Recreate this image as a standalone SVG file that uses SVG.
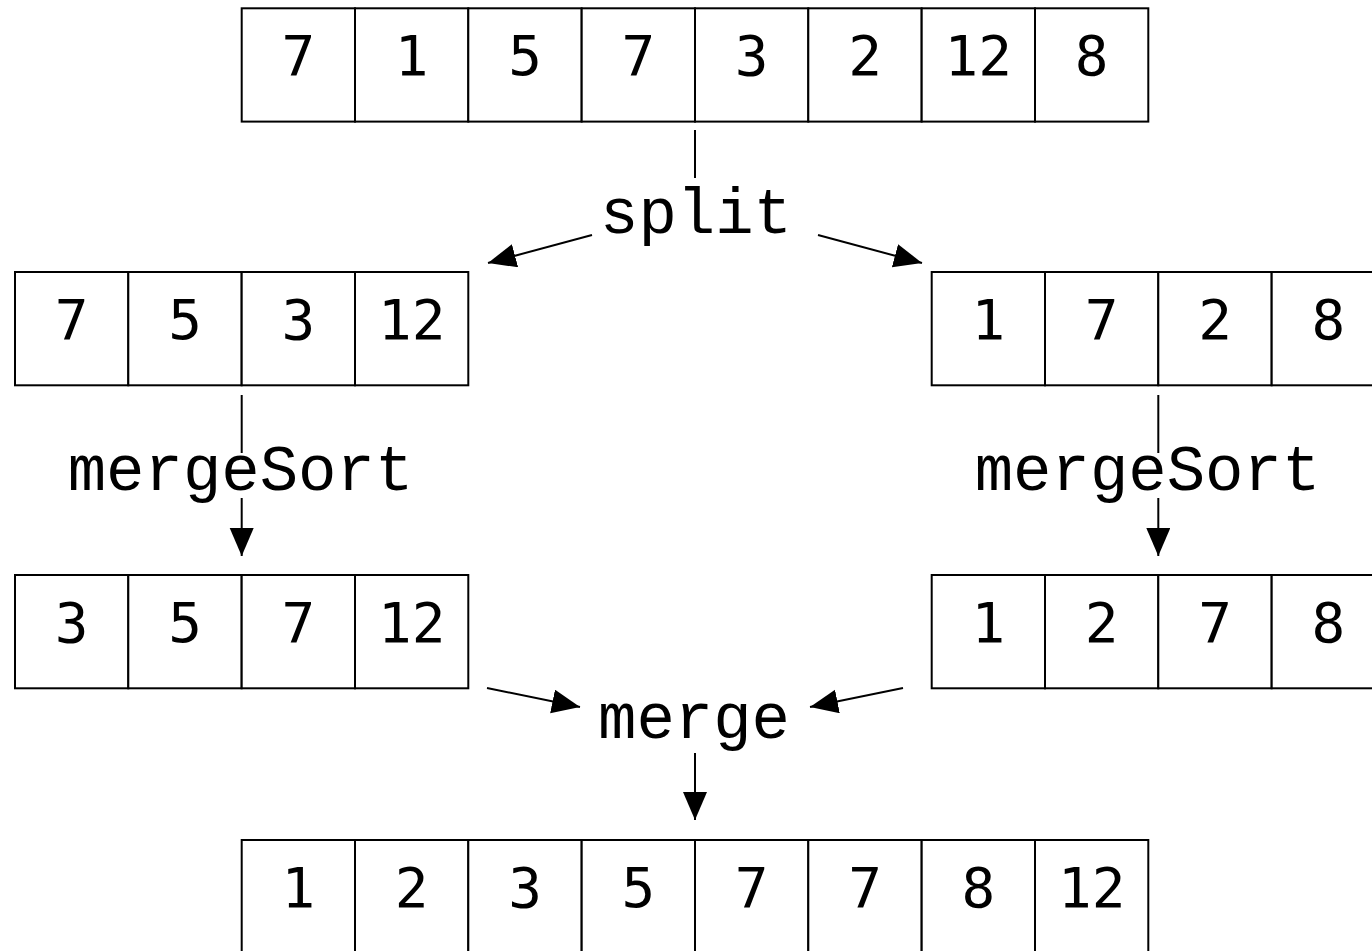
<svg xmlns="http://www.w3.org/2000/svg" width="1372" height="951" viewBox="0 0 1372 951">
<style>
.cell{fill:#fff;stroke:#000;stroke-width:2}
.num{font-family:"DejaVu Sans Mono","Liberation Mono",monospace;font-size:56px;text-anchor:middle;fill:#000}
.lbl{font-family:"Liberation Mono","Courier New",monospace;font-size:64px;text-anchor:middle;fill:#000}
.conn{stroke:#000;stroke-width:2;fill:none}
</style>
<defs>
<marker id="ah" markerUnits="userSpaceOnUse" markerWidth="30" markerHeight="26" refX="28" refY="12" orient="auto">
<path d="M0,0 L28,12 L0,24 Z" fill="#000"/>
</marker>
</defs>
<rect width="1372" height="951" fill="#fff"/>

<g id="arr-top">
<rect class="cell" x="241.7" y="8.3" width="113.3" height="113.3"/>
<rect class="cell" x="355" y="8.3" width="113.3" height="113.3"/>
<rect class="cell" x="468.3" y="8.3" width="113.3" height="113.3"/>
<rect class="cell" x="581.7" y="8.3" width="113.3" height="113.3"/>
<rect class="cell" x="695" y="8.3" width="113.3" height="113.3"/>
<rect class="cell" x="808.3" y="8.3" width="113.3" height="113.3"/>
<rect class="cell" x="921.7" y="8.3" width="113.3" height="113.3"/>
<rect class="cell" x="1035" y="8.3" width="113.3" height="113.3"/>
<text class="num" x="298.3" y="75">7</text>
<text class="num" x="411.7" y="75">1</text>
<text class="num" x="525" y="75">5</text>
<text class="num" x="638.3" y="75">7</text>
<text class="num" x="751.7" y="75">3</text>
<text class="num" x="865" y="75">2</text>
<text class="num" x="978.3" y="75">12</text>
<text class="num" x="1091.7" y="75">8</text>
</g>

<g id="arr-left1">
<rect class="cell" x="15" y="272" width="113.3" height="113.3"/>
<rect class="cell" x="128.3" y="272" width="113.3" height="113.3"/>
<rect class="cell" x="241.7" y="272" width="113.3" height="113.3"/>
<rect class="cell" x="355" y="272" width="113.3" height="113.3"/>
<text class="num" x="71.7" y="339">7</text>
<text class="num" x="185" y="339">5</text>
<text class="num" x="298.3" y="339">3</text>
<text class="num" x="411.7" y="339">12</text>
</g>

<g id="arr-right1">
<rect class="cell" x="931.7" y="272" width="113.3" height="113.3"/>
<rect class="cell" x="1045" y="272" width="113.3" height="113.3"/>
<rect class="cell" x="1158.3" y="272" width="113.3" height="113.3"/>
<rect class="cell" x="1271.7" y="272" width="113.3" height="113.3"/>
<text class="num" x="988.3" y="339">1</text>
<text class="num" x="1101.7" y="339">7</text>
<text class="num" x="1215" y="339">2</text>
<text class="num" x="1328.3" y="339">8</text>
</g>

<g id="arr-left2">
<rect class="cell" x="15" y="575" width="113.3" height="113.3"/>
<rect class="cell" x="128.3" y="575" width="113.3" height="113.3"/>
<rect class="cell" x="241.7" y="575" width="113.3" height="113.3"/>
<rect class="cell" x="355" y="575" width="113.3" height="113.3"/>
<text class="num" x="71.7" y="642">3</text>
<text class="num" x="185" y="642">5</text>
<text class="num" x="298.3" y="642">7</text>
<text class="num" x="411.7" y="642">12</text>
</g>

<g id="arr-right2">
<rect class="cell" x="931.7" y="575" width="113.3" height="113.3"/>
<rect class="cell" x="1045" y="575" width="113.3" height="113.3"/>
<rect class="cell" x="1158.3" y="575" width="113.3" height="113.3"/>
<rect class="cell" x="1271.7" y="575" width="113.3" height="113.3"/>
<text class="num" x="988.3" y="642">1</text>
<text class="num" x="1101.7" y="642">2</text>
<text class="num" x="1215" y="642">7</text>
<text class="num" x="1328.3" y="642">8</text>
</g>

<g id="arr-bottom">
<rect class="cell" x="241.7" y="840" width="113.3" height="113.3"/>
<rect class="cell" x="355" y="840" width="113.3" height="113.3"/>
<rect class="cell" x="468.3" y="840" width="113.3" height="113.3"/>
<rect class="cell" x="581.7" y="840" width="113.3" height="113.3"/>
<rect class="cell" x="695" y="840" width="113.3" height="113.3"/>
<rect class="cell" x="808.3" y="840" width="113.3" height="113.3"/>
<rect class="cell" x="921.7" y="840" width="113.3" height="113.3"/>
<rect class="cell" x="1035" y="840" width="113.3" height="113.3"/>
<text class="num" x="298.3" y="907">1</text>
<text class="num" x="411.7" y="907">2</text>
<text class="num" x="525" y="907">3</text>
<text class="num" x="638.3" y="907">5</text>
<text class="num" x="751.7" y="907">7</text>
<text class="num" x="865" y="907">7</text>
<text class="num" x="978.3" y="907">8</text>
<text class="num" x="1091.7" y="907">12</text>
</g>

<g id="label-split"><text class="lbl" x="696" y="233">split</text></g>
<g id="label-mergesort-left"><text class="lbl" x="240.5" y="490">mergeSort</text></g>
<g id="label-mergesort-right"><text class="lbl" x="1147.5" y="490">mergeSort</text></g>
<g id="label-merge"><text class="lbl" x="694" y="738">merge</text></g>

<g id="connectors">
<line class="conn" x1="695" y1="130" x2="695" y2="178"/>
<line class="conn" x1="592" y1="235" x2="488" y2="263" marker-end="url(#ah)"/>
<line class="conn" x1="818" y1="235" x2="922" y2="263" marker-end="url(#ah)"/>
<line class="conn" x1="241.7" y1="395" x2="241.7" y2="453"/>
<line class="conn" x1="241.7" y1="498" x2="241.7" y2="556" marker-end="url(#ah)"/>
<line class="conn" x1="1158.3" y1="395" x2="1158.3" y2="453"/>
<line class="conn" x1="1158.3" y1="498" x2="1158.3" y2="556" marker-end="url(#ah)"/>
<line class="conn" x1="487" y1="688" x2="580" y2="707" marker-end="url(#ah)"/>
<line class="conn" x1="903" y1="688" x2="810" y2="707" marker-end="url(#ah)"/>
<line class="conn" x1="695" y1="753" x2="695" y2="820" marker-end="url(#ah)"/>
</g>
</svg>
